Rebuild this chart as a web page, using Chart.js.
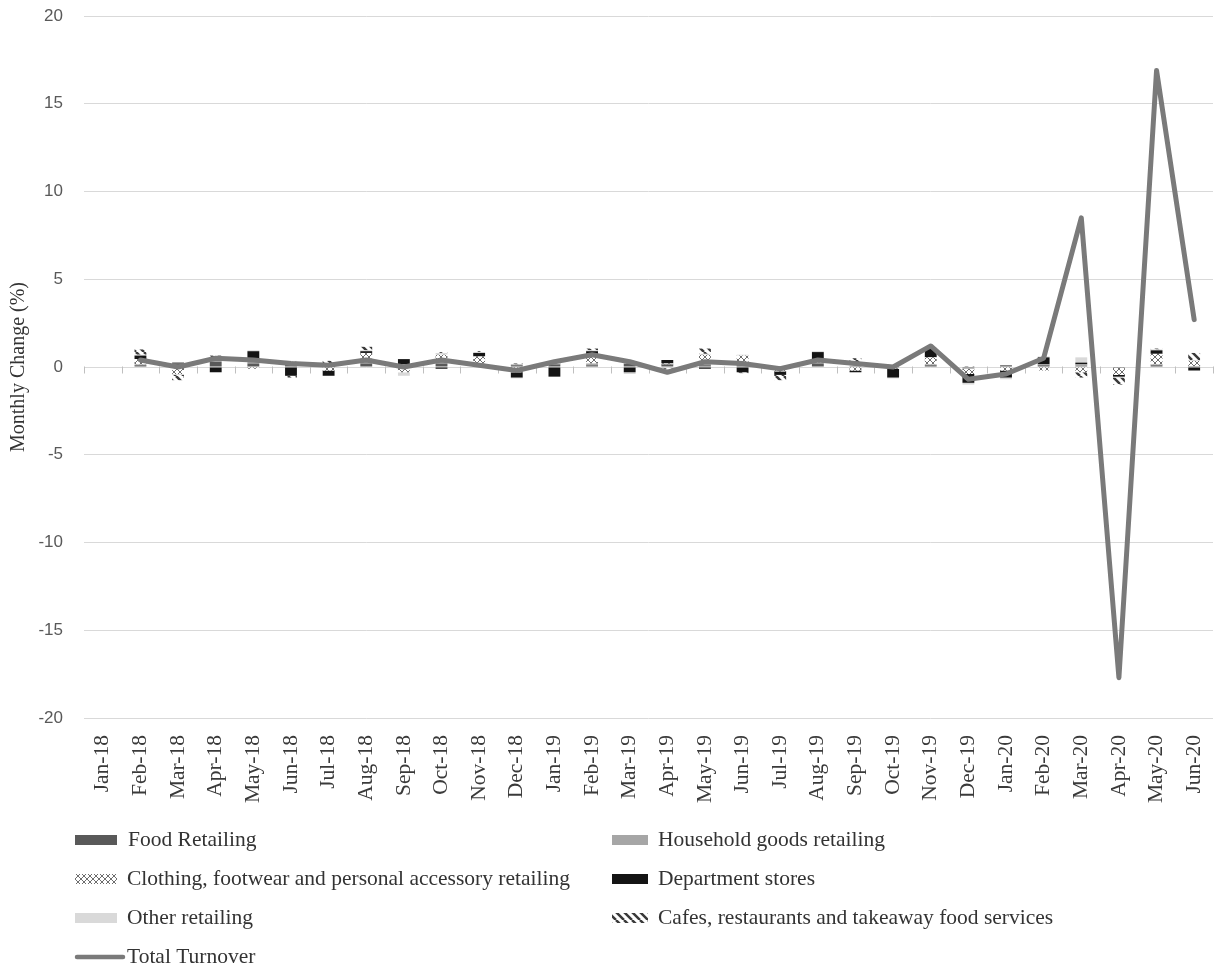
<!DOCTYPE html>
<html>
<head>
<meta charset="utf-8">
<script src="https://cdn.jsdelivr.net/npm/chart.js@4.4.0/dist/chart.umd.min.js"></script>
<style>
  html, body { margin: 0; padding: 0; background: #fff; }
  canvas { display: block; }
</style>
</head>
<body>
<canvas id="retailChart" width="1215" height="973"></canvas>
<script>
const months = ['Jan-18', 'Feb-18', 'Mar-18', 'Apr-18', 'May-18', 'Jun-18', 'Jul-18', 'Aug-18', 'Sep-18', 'Oct-18',
  'Nov-18', 'Dec-18', 'Jan-19', 'Feb-19', 'Mar-19', 'Apr-19', 'May-19', 'Jun-19', 'Jul-19', 'Aug-19',
  'Sep-19', 'Oct-19', 'Nov-19', 'Dec-19', 'Jan-20', 'Feb-20', 'Mar-20', 'Apr-20', 'May-20', 'Jun-20'];

// monthly change (%) by industry
const foodRetailing = [null, 0.1, 0.2, 0.3, 0.2, 0.2, 0.1, 0.2, 0.1, 0.2, 0.1, 0.1, 0.15, 0.1, 0.2, 0.15, 0.1, 0.1, 0.05, 0.2, 0.05, 0.1, 0.1, -0.05, 0.1, 0.1, 0.05, -0.05, 0.1, 0.05];
const householdGoods = [null, 0.05, 0, 0.05, 0.1, 0.05, 0, 0.3, 0.05, 0.1, 0.1, 0.05, 0.05, 0.1, 0, 0, 0.2, 0.05, -0.05, 0.05, 0, -0.05, 0.05, -0.05, 0, 0.05, 0.1, 0, 0.05, 0];
const clothingRetailing = [null, 0.3, -0.4, 0.05, -0.1, 0.05, -0.2, 0.3, -0.3, 0.4, 0.4, -0.3, 0.05, 0.5, 0.05, 0.05, 0.4, 0.5, -0.2, 0.2, -0.2, -0.05, 0.4, -0.3, -0.2, -0.2, -0.3, -0.4, 0.6, 0.3];
const departmentStores = [null, 0.2, 0.05, -0.3, 0.6, -0.5, -0.3, 0.1, 0.3, -0.1, 0.2, -0.3, -0.55, 0.2, -0.3, 0.2, -0.1, -0.3, -0.2, 0.4, -0.1, -0.5, 0.5, -0.5, -0.4, 0.4, 0.1, -0.1, 0.2, -0.2];
const otherRetailing = [null, 0.05, -0.05, 0.05, 0.05, 0.05, 0.05, 0.05, -0.2, 0.1, 0.05, -0.05, 0.05, 0.05, -0.1, -0.05, 0.05, 0.05, 0, 0.05, 0.05, -0.05, 0.05, -0.1, -0.1, 0.05, 0.3, -0.05, 0.05, 0.05];
const cafesRestaurants = [null, 0.3, -0.3, 0.2, 0, -0.1, 0.2, 0.2, 0, 0.05, 0.05, 0.05, 0.1, 0.1, 0.1, -0.05, 0.3, -0.05, -0.3, 0, 0.4, 0, 0, 0.05, 0, 0, -0.3, -0.4, 0.05, 0.4];
const totalTurnover = [null, 0.4, 0.0, 0.5, 0.4, 0.2, 0.1, 0.4, 0.0, 0.4, 0.1, -0.2, 0.3, 0.7, 0.3, -0.3, 0.3, 0.2, -0.1, 0.4, 0.2, 0.0, 1.2, -0.7, -0.4, 0.5, 8.5, -17.7, 16.9, 2.7];

const seriesNames = ['Food Retailing', 'Household goods retailing', 'Clothing, footwear and personal accessory retailing',
  'Department stores', 'Other retailing', 'Cafes, restaurants and takeaway food services', 'Total Turnover'];
const yTicks = { min: -20, max: 20, step: 5 };

const ctx = document.getElementById('retailChart').getContext('2d');

function makePattern(size, draw) {
  const c = document.createElement('canvas');
  c.width = size; c.height = size;
  const g = c.getContext('2d');
  g.fillStyle = '#ffffff';
  g.fillRect(0, 0, size, size);
  draw(g, size);
  return ctx.createPattern(c, 'repeat');
}

// small diamond cross-hatch
const clothingFill = makePattern(6, (g, s) => {
  g.strokeStyle = '#6e6e6e';
  g.lineWidth = 1;
  g.beginPath();
  g.moveTo(0, 0); g.lineTo(s, s);
  g.moveTo(s, 0); g.lineTo(0, s);
  g.stroke();
});
// wide downward diagonal
const cafesFill = makePattern(8, (g, s) => {
  g.strokeStyle = '#3a3a3a';
  g.lineWidth = 2.5;
  g.beginPath();
  for (let k = -1; k <= 1; k++) {
    g.moveTo(k * s, 0); g.lineTo(k * s + s, s);
  }
  g.stroke();
});

const serif = 'Times New Roman, Liberation Serif, serif';

function barSet(label, values, fill) {
  return {
    type: 'bar', label: label, data: values, backgroundColor: fill,
    borderWidth: 0, order: 1, barPercentage: 0.9, categoryPercentage: 0.35
  };
}

// zero line tick marks between categories (Excel style)
const zeroTicks = {
  id: 'zeroTicks',
  beforeDatasetsDraw(chart) {
    const xs = chart.scales.x, ys = chart.scales.y;
    const y0 = Math.round(ys.getPixelForValue(0)) + 0.5;
    const c = chart.ctx;
    c.save();
    c.strokeStyle = '#bfbfbf';
    c.lineWidth = 1;
    c.beginPath();
    for (let i = 0; i <= months.length; i++) {
      const px = Math.round(xs.getPixelForValue(i - 0.5)) + 0.5;
      c.moveTo(px, y0 - 1);
      c.lineTo(px, y0 + 6);
    }
    c.stroke();
    c.restore();
  }
};

// two-column legend under the axis labels
const columnLegend = {
  id: 'columnLegend',
  afterDraw(chart) {
    const c = chart.ctx;
    const cols = [{ box: 75, text: 127 }, { box: 612, text: 658 }];
    const rows = [840, 879, 918, 957];
    c.save();
    c.font = '21.5px ' + serif;
    c.textBaseline = 'middle';
    chart.data.datasets.forEach((ds, i) => {
      const col = i === 6 ? cols[0] : cols[i % 2];
      const row = rows[Math.floor(i / 2)];
      if (ds.type === 'line') {
        c.strokeStyle = ds.borderColor;
        c.lineWidth = 4.5;
        c.lineCap = 'round';
        c.beginPath();
        c.moveTo(col.box + 2, row);
        c.lineTo(col.text - 4, row);
        c.stroke();
      } else {
        c.fillStyle = ds.backgroundColor;
        c.fillRect(col.box, row - 5, col.text - col.box - 10, 10);
      }
      c.fillStyle = '#333333';
      c.fillText(ds.label, i === 0 ? col.text + 1 : col.text, row);
    });
    c.restore();
  }
};

new Chart(ctx, {
  data: {
    labels: months,
    datasets: [
      barSet(seriesNames[0], foodRetailing, '#595959'),
      barSet(seriesNames[1], householdGoods, '#a6a6a6'),
      barSet(seriesNames[2], clothingRetailing, clothingFill),
      barSet(seriesNames[3], departmentStores, '#141414'),
      barSet(seriesNames[4], otherRetailing, '#d9d9d9'),
      barSet(seriesNames[5], cafesRestaurants, cafesFill),
      {
        type: 'line', label: seriesNames[6], data: totalTurnover, stack: 'total',
        borderColor: '#7a7a7a', borderWidth: 5, pointRadius: 0, tension: 0, order: 0,
        borderJoinStyle: 'round', borderCapStyle: 'round'
      }
    ]
  },
  plugins: [zeroTicks, columnLegend],
  options: {
    responsive: false,
    animation: false,
    layout: { padding: { left: 3, right: 2, top: 16, bottom: 160 } },
    plugins: {
      legend: { display: false },
      tooltip: { enabled: false }
    },
    scales: {
      x: {
        stacked: true,
        grid: { display: false },
        border: { display: false },
        afterFit(scale) {
          scale.height = 95;
          scale.paddingLeft = 0;
          scale.paddingRight = 0;
        },
        ticks: {
          autoSkip: false, minRotation: 90, maxRotation: 90, padding: 9,
          color: '#3a3a3a', font: { family: serif, size: 21.5 }
        }
      },
      y: {
        stacked: true,
        min: yTicks.min, max: yTicks.max,
        grid: { color: '#d9d9d9', drawTicks: false },
        border: { display: false },
        afterFit(scale) {
          scale.width = 81;
          scale.paddingTop = 0;
          scale.paddingBottom = 0;
        },
        ticks: {
          stepSize: yTicks.step, padding: 21,
          color: '#595959', font: { family: 'Liberation Sans, sans-serif', size: 17 }
        },
        title: {
          display: true, text: 'Monthly Change (%)', color: '#333333',
          font: { family: serif, size: 20 }, padding: { top: 4, bottom: 12 }
        }
      }
    }
  }
});
</script>
</body>
</html>
